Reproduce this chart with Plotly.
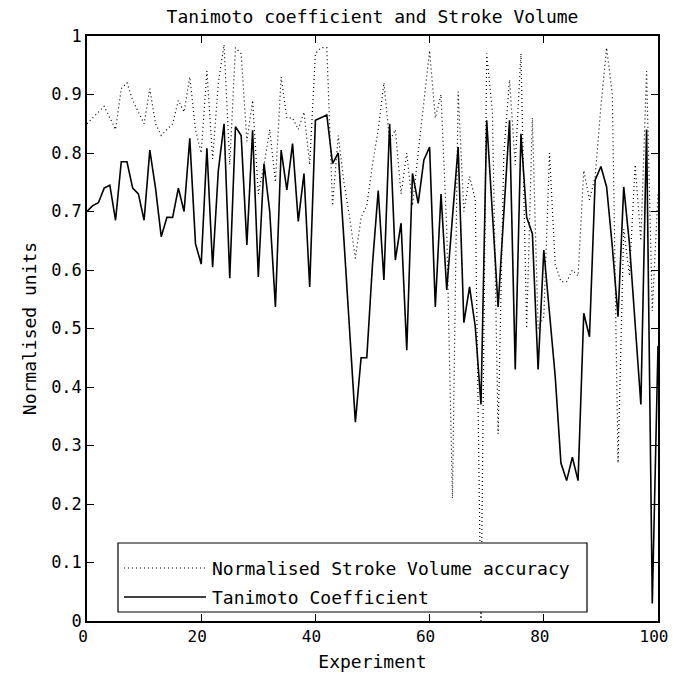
import plotly.graph_objects as go

experiment = list(range(0, 101))

stroke_volume = [0.85, 0.86, 0.87, 0.88, 0.86, 0.84, 0.91, 0.92, 0.89, 0.87,
                 0.85, 0.91, 0.85, 0.83, 0.84, 0.85, 0.89, 0.87, 0.93, 0.84,
                 0.80, 0.94, 0.79, 0.92, 0.985, 0.78, 0.98, 0.97, 0.82, 0.89,
                 0.73, 0.78, 0.84, 0.75, 0.93, 0.86, 0.86, 0.84, 0.87, 0.78,
                 0.97, 0.98, 0.98, 0.71, 0.83, 0.75, 0.69, 0.62, 0.69, 0.71,
                 0.78, 0.84, 0.92, 0.82, 0.84, 0.73, 0.80, 0.71, 0.80, 0.89,
                 0.975, 0.86, 0.90, 0.67, 0.21, 0.905, 0.70, 0.76, 0.72, 0.0,
                 0.97, 0.87, 0.32, 0.80, 0.925, 0.78, 0.97, 0.50, 0.86, 0.50,
                 0.52, 0.80, 0.61, 0.58, 0.58, 0.60, 0.59, 0.77, 0.72, 0.76,
                 0.88, 0.98, 0.90, 0.27, 0.67, 0.59, 0.78, 0.65, 0.94, 0.53,
                 0.73]

tanimoto = [0.70, 0.71, 0.715, 0.74, 0.745, 0.685, 0.785, 0.785, 0.74, 0.73,
            0.685, 0.805, 0.74, 0.657, 0.69, 0.69, 0.74, 0.70, 0.825, 0.645,
            0.61, 0.808, 0.605, 0.77, 0.85, 0.586, 0.845, 0.83, 0.643, 0.839,
            0.588, 0.782, 0.70, 0.537, 0.805, 0.737, 0.816, 0.683, 0.765, 0.571,
            0.856, 0.86, 0.865, 0.782, 0.80, 0.651, 0.50, 0.34, 0.45, 0.45,
            0.61, 0.736, 0.583, 0.85, 0.617, 0.68, 0.463, 0.765, 0.714, 0.788,
            0.81, 0.537, 0.73, 0.566, 0.69, 0.81, 0.51, 0.571, 0.503, 0.37,
            0.856, 0.69, 0.537, 0.697, 0.856, 0.43, 0.833, 0.69, 0.662, 0.43,
            0.634, 0.526, 0.418, 0.27, 0.24, 0.28, 0.24, 0.526, 0.486, 0.754,
            0.777, 0.742, 0.64, 0.52, 0.742, 0.645, 0.503, 0.37, 0.84, 0.03,
            0.47]

x_ticks = [0, 20, 40, 60, 80, 100]
y_ticks = [0, 0.1, 0.2, 0.3, 0.4, 0.5, 0.6, 0.7, 0.8, 0.9, 1]
y_tick_text = ["0", "0.1", "0.2", "0.3", "0.4", "0.5", "0.6", "0.7", "0.8", "0.9", "1"]

series_names = ["Normalised Stroke Volume accuracy", "Tanimoto Coefficient"]

FONT = "DejaVu Sans Mono"
fs = 18

fig = go.Figure()
fig.add_trace(go.Scatter(x=experiment, y=stroke_volume, mode="lines",
                         name=series_names[0],
                         line=dict(color="black", width=1.2, dash="1px,3px")))
fig.add_trace(go.Scatter(x=experiment, y=tanimoto, mode="lines",
                         name=series_names[1],
                         line=dict(color="black", width=1.6)))

L, R, T, B = 87, 17, 36, 62
W, H = 675, 683
pw = W - L - R
ph = H - T - B

def px2x(p):
    return (p - L) / pw

def py2y(p):
    return (H - B - p) / ph

# legend box (drawn manually to mimic the original look)
lx0, lx1, ly0, ly1 = px2x(118), px2x(587), py2y(612), py2y(543)
shapes = [dict(type="rect", xref="paper", yref="paper", x0=lx0, x1=lx1, y0=ly0, y1=ly1,
               line=dict(color="black", width=1.2), fillcolor="white", layer="above")]
rows = [py2y(568), py2y(597)]
dashes = ["1px,3px", "solid"]
widths = [1.2, 1.6]
annotations = []
for i in range(2):
    shapes.append(dict(type="line", xref="paper", yref="paper",
                       x0=px2x(124), x1=px2x(206), y0=rows[i], y1=rows[i],
                       line=dict(color="black", width=widths[i], dash=dashes[i]),
                       layer="above"))
    annotations.append(dict(xref="paper", yref="paper", x=px2x(210), y=rows[i],
                            text=series_names[i], showarrow=False,
                            xanchor="left", yanchor="middle",
                            font=dict(family=FONT, size=fs, color="black")))

fig.update_layout(
    width=W, height=H,
    margin=dict(l=L, r=R, t=T, b=B),
    paper_bgcolor="white", plot_bgcolor="white",
    showlegend=False,
    font=dict(family=FONT, size=fs, color="black"),
    title=dict(text="Tanimoto coefficient and Stroke Volume", x=0.5, xref="paper",
               xanchor="center", y=1 - 17 / H, yanchor="middle",
               font=dict(family=FONT, size=fs, color="black")),
    xaxis=dict(range=[0, 100], tickvals=x_ticks, ticks="inside", ticklen=7,
               tickwidth=1, tickcolor="black", showline=True, linecolor="black",
               linewidth=1.5, mirror="ticks", showgrid=False, zeroline=False,
               ticklabeloverflow="allow", automargin=False, ticklabelshift=-4,
               tickfont=dict(family=FONT, size=16),
               title=dict(text="Experiment", standoff=10,
                          font=dict(family=FONT, size=fs))),
    yaxis=dict(range=[0, 1], tickvals=y_ticks, ticktext=y_tick_text, ticks="inside",
               ticklen=7, tickwidth=1, tickcolor="black", showline=True,
               linecolor="black", linewidth=1.5, mirror="ticks", showgrid=False,
               zeroline=False, ticklabeloverflow="allow", automargin=False,
               tickfont=dict(family=FONT, size=17),
               title=dict(text="Normalised units", standoff=10,
                          font=dict(family=FONT, size=fs))),
    shapes=shapes,
    annotations=annotations,
)

fig.write_html("out.html")
